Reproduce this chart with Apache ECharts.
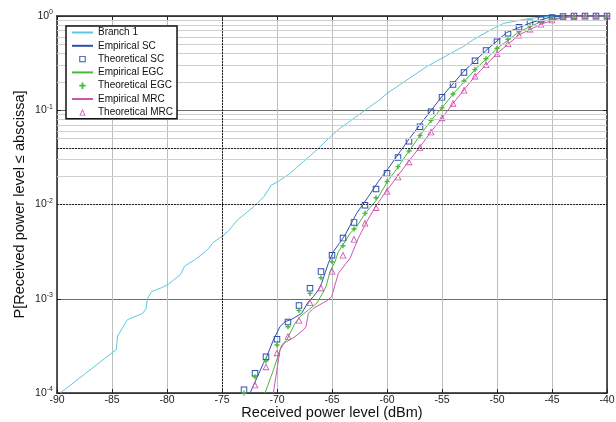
<!DOCTYPE html>
<html>
<head>
<meta charset="utf-8">
<script src="https://cdn.jsdelivr.net/npm/echarts@6/dist/echarts.min.js"></script>
<style>
html, body { margin: 0; padding: 0; background: #fff; }
#chart { width: 616px; height: 422px; }
</style>
</head>
<body>
<div id="chart"></div>
<script>
// 数据
const branchX = [-89.7, -84.6, -84.5, -83.6, -82.2, -81.9, -81.8, -81.4, -80.5, -79.9, -79.4, -78.8, -78.4, -77.5, -76.7, -76.2, -75.8, -75.0, -74.4, -73.6, -72.5, -72.1, -71.2, -70.5, -69.9, -68.8, -67.6, -66.4, -65.2, -64.3, -60.6, -60.0, -56.4, -53.1, -52.2, -50.6, -49.4, -47.0, -45.2, -43.0, -40.0]
const branchY = [1e-4, 2.9e-4, 4.0e-4, 6.0e-4, 7.0e-4, 7.9e-4, 9.9e-4, 1.19e-3, 1.31e-3, 1.42e-3, 1.58e-3, 1.79e-3, 2.22e-3, 2.58e-3, 3.03e-3, 3.43e-3, 3.97e-3, 4.56e-3, 5.27e-3, 6.84e-3, 8.7e-3, 9.5e-3, 0.0121, 0.0161, 0.0175, 0.0214, 0.0285, 0.0378, 0.0516, 0.064, 0.131, 0.151, 0.29, 0.472, 0.556, 0.71, 0.836, 0.944, 0.99, 1, 1]

const scEmpX = [-72.45, -71.24, -70.94, -70.33, -69.73, -69.27, -68.67, -67.76, -67.15, -66.7, -66.24, -65.94, -65.64, -65.33, -64.88, -64.33, -63.82, -62.76, -61.7, -60.79, -59.88, -58.82, -58.06, -56.7, -55.0, -53.0, -51.0, -49.1, -47.0, -45.2, -44.0, -40.0]
const scEmpY = [1e-4, 2.06e-4, 2.43e-4, 3.65e-4, 5.06e-4, 5.71e-4, 6.05e-4, 7.0e-4, 9.3e-4, 1.05e-3, 1.24e-3, 1.46e-3, 1.86e-3, 2.38e-3, 3.16e-3, 3.87e-3, 4.74e-3, 8.05e-3, 0.0121, 0.0175, 0.0242, 0.0363, 0.0483, 0.078, 0.14, 0.26, 0.43, 0.67, 0.84, 0.97, 0.995, 1]

const egcEmpX = [-71.09, -70.33, -69.57, -69.12, -68.36, -67.91, -67.15, -66.39, -65.94, -65.55, -65.18, -64.73, -64.42, -63.82, -63.36, -62.76, -62.0, -60.94, -60.0, -59.0, -58.0, -57.0, -56.0, -55.0, -54.0, -52.0, -50.0, -48.0, -46.0, -44.0, -42.0, -40.0]
const egcEmpY = [1e-4, 1.75e-4, 3.24e-4, 3.65e-4, 5.5e-4, 6.45e-4, 7.6e-4, 8.95e-4, 1.1e-3, 1.34e-3, 1.94e-3, 2.47e-3, 3.16e-3, 4.03e-3, 4.94e-3, 5.8e-3, 8.0e-3, 0.0112, 0.0172, 0.025, 0.037, 0.054, 0.078, 0.106, 0.148, 0.27, 0.452, 0.68, 0.87, 0.97, 1, 1]

const mrcEmpX = [-70.33, -69.73, -69.36, -68.36, -67.61, -67.36, -67.15, -66.7, -65.48, -65.03, -64.73, -64.42, -63.82, -63.36, -62.61, -61.85, -60.94, -60.0, -59.0, -58.0, -57.0, -56.0, -55.0, -54.0, -52.0, -50.0, -48.0, -46.0, -44.0, -42.0, -40.0]
const mrcEmpY = [1e-4, 2.86e-4, 3.37e-4, 3.96e-4, 4.67e-4, 5.05e-4, 7.0e-4, 7.9e-4, 9.5e-4, 1.05e-3, 1.4e-3, 1.86e-3, 2.29e-3, 2.69e-3, 4.38e-3, 6.57e-3, 0.0099, 0.0142, 0.0203, 0.029, 0.041, 0.059, 0.083, 0.118, 0.23, 0.4, 0.63, 0.82, 0.97, 1, 1]

const theoX = [-73, -72, -71, -70, -69, -68, -67, -66, -65, -64, -63, -62, -61, -60, -59, -58, -57, -56, -55, -54, -53, -52, -51, -50, -49, -48, -47, -46, -45, -44, -43, -42, -41, -40]
const scTheo = [1.08e-4, 1.62e-4, 2.43e-4, 3.71e-4, 5.66e-4, 8.5e-4, 1.29e-3, 1.94e-3, 2.9e-3, 4.4e-3, 6.46e-3, 9.8e-3, 0.0146, 0.0214, 0.0316, 0.0468, 0.067, 0.0966, 0.137, 0.188, 0.252, 0.335, 0.43, 0.534, 0.655, 0.76, 0.85, 0.92, 0.965, 0.99, 0.998, 1, 1, 1]
const egcTheo = [1.0e-4, 1.49e-4, 2.2e-4, 3.23e-4, 5.05e-4, 7.5e-4, 1.14e-3, 1.67e-3, 2.47e-3, 3.65e-3, 5.5e-3, 8.06e-3, 0.0118, 0.0175, 0.0252, 0.037, 0.054, 0.078, 0.106, 0.149, 0.204, 0.27, 0.352, 0.454, 0.566, 0.68, 0.78, 0.87, 0.93, 0.97, 0.99, 1, 1, 1]
const mrcTheo = [null, 1.22e-4, 1.9e-4, 2.68e-4, 4.0e-4, 5.95e-4, 9.1e-4, 1.31e-3, 1.97e-3, 2.91e-3, 4.3e-3, 6.35e-3, 9.3e-3, 0.0139, 0.0197, 0.0285, 0.0404, 0.059, 0.0834, 0.119, 0.164, 0.231, 0.305, 0.40, 0.51, 0.63, 0.73, 0.82, 0.91, 0.97, 0.99, 1, 1, 1]

const decades = [1e-4, 1e-3, 1e-2, 1e-1, 1]
const dashY = [0.04, 0.008, 0.005, 0.0007, 0.0005]
const dashX = [-75]

const names = ['Branch 1', 'Empirical SC', 'Theoretical SC', 'Empirical EGC', 'Theoretical EGC', 'Empirical MRC', 'Theoretical MRC']
const color = { cyan: '#5cc8df', blue: '#2d4fae', green: '#48b83a', pink: '#cf55b2' }

// 标记形状（空心方块 / 十字 / 空心三角）
const squareRing = 'path://M0,0H10V10H0Z M1.5,1.5V8.5H8.5V1.5Z'
const plusMark = 'path://M3.6,0H6.4V3.6H10V6.4H6.4V10H3.6V6.4H0V3.6H3.6Z'
const triRing = 'path://M5,0L10,9H0Z M5,2.6L1.9,7.9H8.1Z'

function zip(xs, ys) {
    return xs.map((x, i) => [x, ys[i]])
}

// 次网格线 2..9 × 每个数量级
let minorY = []
for (let i = 0; i < decades.length - 1; i++) {
    for (let k = 2; k <= 9; k++) minorY.push(decades[i] * k)
}

const chart = echarts.init(document.getElementById('chart'), null, { renderer: 'canvas' })
const font = 'Liberation Sans, Arial, sans-serif'

function empLine(name, xs, ys, c) {
    return {
        name: name, type: 'line', data: zip(xs, ys), symbol: 'none', z: 3,
        lineStyle: { color: c, width: 1 }, itemStyle: { color: c }
    }
}
function theoLine(name, ys, c, symbol, size) {
    return {
        name: name, type: 'line', data: zip(theoX, ys), symbol: symbol, symbolSize: size,
        showAllSymbol: true, z: 4,
        lineStyle: { width: 0, opacity: 0 },
        itemStyle: { color: c }
    }
}

const option = {
    animation: false,
    backgroundColor: '#fff',
    grid: { left: 57, right: 9, top: 16, bottom: 29, containLabel: false, outerBoundsMode: 'none' },
    legend: {
        orient: 'vertical', left: 66, top: 26, z: 10,
        itemWidth: 21, itemHeight: 8, itemGap: 2.3,
        padding: [1, 4, 1, 5],
        backgroundColor: '#fff', borderColor: '#111', borderWidth: 1.5,
        textStyle: { fontFamily: font, fontSize: 10, lineHeight: 11, color: '#111' },
        data: names.map(n => n.indexOf('Theoretical') === 0 ? { name: n } : { name: n, itemStyle: { opacity: 0 } })
    },
    xAxis: [{
        type: 'value', min: -90, max: -40, interval: 5,
        name: 'Received power level (dBm)', nameLocation: 'middle', nameGap: 12, nameMoveOverlap: false,
        nameTextStyle: { fontFamily: font, fontSize: 14.5, color: '#111' },
        axisLine: { show: true, lineStyle: { color: '#222', width: 1.5 } },
        axisTick: { inside: true, length: 4, lineStyle: { color: '#222' } },
        axisLabel: { fontFamily: font, fontSize: 10.5, color: '#222', margin: 2 },
        splitLine: { show: true, lineStyle: { color: '#bdbdbd', width: 1 } }
    }, {
        type: 'value', min: -90, max: -40, interval: 5, position: 'top',
        axisLine: { show: true, lineStyle: { color: '#222', width: 1.5 } },
        axisTick: { inside: true, length: 4, lineStyle: { color: '#222' } },
        axisLabel: { show: false }, splitLine: { show: false }
    }],
    yAxis: [{
        type: 'log', logBase: 10, min: 1e-4, max: 1,
        name: 'P[Received power level \u2264 abscissa]', nameLocation: 'middle', nameGap: 30, nameMoveOverlap: false,
        nameTextStyle: { fontFamily: font, fontSize: 14.5, color: '#111' },
        axisLine: { show: true, lineStyle: { color: '#222', width: 1.5 } },
        axisTick: { inside: true, length: 4, lineStyle: { color: '#222' } },
        axisLabel: {
            margin: 4, color: '#222',
            formatter: function (v) {
                return '{b|10}{e|' + Math.round(Math.log10(v)) + '}'
            },
            rich: {
                b: { fontFamily: font, fontSize: 10.5, color: '#222' },
                e: { fontFamily: font, fontSize: 7, color: '#222', verticalAlign: 'bottom', padding: [0, 0, 7, 0] }
            }
        },
        splitLine: { show: true, lineStyle: { color: '#6e6e6e', width: 1 } }
    }, {
        type: 'log', logBase: 10, min: 1e-4, max: 1, position: 'right',
        axisLine: { show: true, lineStyle: { color: '#222', width: 1.5 } },
        axisTick: { inside: true, length: 4, lineStyle: { color: '#222' } },
        axisLabel: { show: false }, splitLine: { show: false }
    }],
    series: [
        {
            name: 'grid', type: 'line', data: [], silent: true, z: 1,
            markLine: {
                silent: true, symbol: ['none', 'none'], label: { show: false },
                animation: false,
                data: minorY.map(v => ({ yAxis: v, lineStyle: { color: '#cfcfcf', width: 1, type: 'solid' } }))
                    .concat(dashY.map(v => ({ yAxis: v, lineStyle: { color: '#222', width: 1, type: [2, 1] } })))
                    .concat(dashX.map(v => ({ xAxis: v, lineStyle: { color: '#222', width: 1, type: [2, 1] } })))
            }
        },
        empLine('Branch 1', branchX, branchY, color.cyan),
        empLine('Empirical SC', scEmpX, scEmpY, color.blue),
        theoLine('Theoretical SC', scTheo, color.blue, squareRing, 6.5),
        empLine('Empirical EGC', egcEmpX, egcEmpY, color.green),
        theoLine('Theoretical EGC', egcTheo, color.green, plusMark, 5),
        empLine('Empirical MRC', mrcEmpX, mrcEmpY, color.pink),
        theoLine('Theoretical MRC', mrcTheo, color.pink, triRing, 7)
    ]
}
chart.setOption(option)
</script>
</body>
</html>
